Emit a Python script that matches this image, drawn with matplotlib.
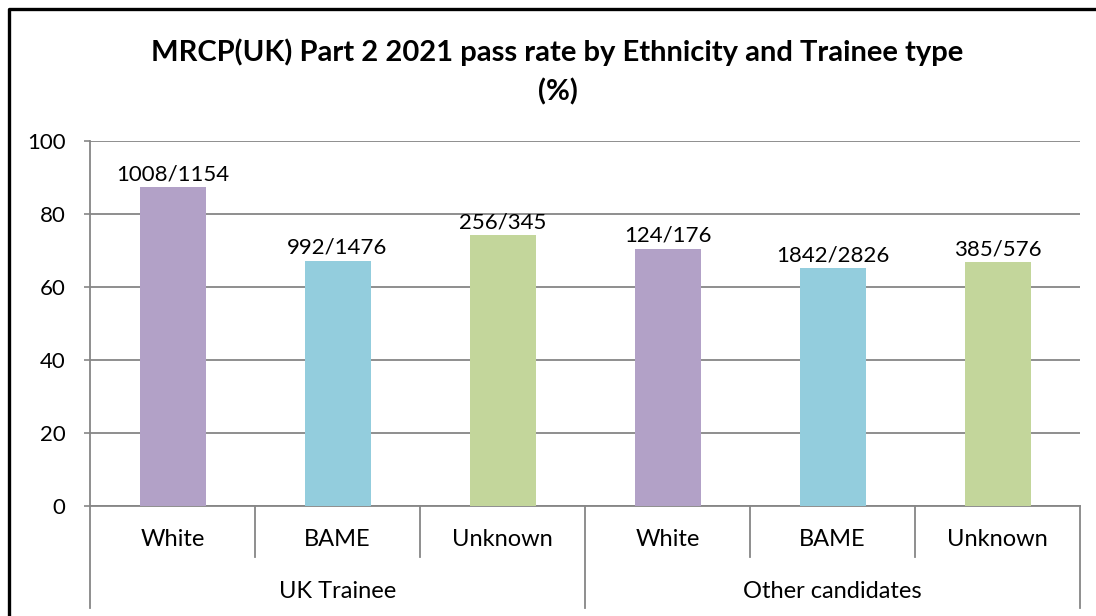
import matplotlib
matplotlib.use("Agg")
import matplotlib.pyplot as plt
from matplotlib.lines import Line2D
import matplotlib.transforms as mtransforms

# ---- data ----
groups = ["UK Trainee", "Other candidates"]
ethnicities = ["White", "BAME", "Unknown", "White", "BAME", "Unknown"]
pass_rates = [87.3, 67.2, 74.2, 70.5, 65.2, 66.8]
bar_labels = ["1008/1154", "992/1476", "256/345", "124/176", "1842/2826", "385/576"]
yticks = [0, 20, 40, 60, 80, 100]
colors = ["#B2A1C7", "#93CDDD", "#C3D69B", "#B2A1C7", "#93CDDD", "#C3D69B"]

plt.rcParams['font.family'] = ['Lato', 'DejaVu Sans']

W, H = 1096, 616
fig = plt.figure(figsize=(W / 100, H / 100), dpi=100)
ax = fig.add_axes([90 / W, 1 - 506 / H, (1080 - 90) / W, (506 - 141) / H])

x = list(range(len(pass_rates)))
bars = ax.bar(x, pass_rates, width=0.4, color=colors, zorder=3)
for xi, v, lab in zip(x, pass_rates, bar_labels):
    ax.text(xi, v + 0.8, lab, ha="center", va="bottom", fontsize=16, color="black", zorder=4)

ax.set_xlim(-0.5, len(x) - 0.5)
ax.set_ylim(0, 100)
ax.set_yticks(yticks)
ax.set_yticklabels([str(t) for t in yticks], fontsize=16)
ax.tick_params(axis="y", direction="out", length=4.5, width=1.2, color="#868686", pad=13)
ax.set_xticks([])
ax.grid(axis="y", color="#868686", linewidth=1.3, zorder=0)
for s in ["top", "right"]:
    ax.spines[s].set_visible(False)
ax.spines["left"].set_color("#868686")
ax.spines["left"].set_linewidth(1.3)
ax.spines["bottom"].set_color("#868686")
ax.spines["bottom"].set_linewidth(1.3)

trans = mtransforms.blended_transform_factory(ax.transData, ax.transAxes)
short = -51 / 365
long = -102 / 365
n = len(x)
for b in range(n + 1):
    xb = b - 0.5
    ylow = long if b % 3 == 0 else short
    ax.plot([xb, xb], [0, ylow], transform=trans, color="#868686", lw=1.3, clip_on=False)

for xi, e in zip(x, ethnicities):
    ax.text(xi, -34 / 365, e, transform=trans, ha="center", va="center", fontsize=17)
for gi, g in enumerate(groups):
    ax.text(gi * 3 + 1, -86 / 365, g, transform=trans, ha="center", va="center", fontsize=17)

fig.text(557.5 / W, 1 - 72 / H, "MRCP(UK) Part 2 2021 pass rate by Ethnicity and Trainee type\n(%)",
         ha="center", va="center", fontsize=21, fontweight="bold", linespacing=1.55)

# outer frame (left and top visible)
fig.add_artist(Line2D([8.5 / W, 8.5 / W, 1.0], [0.0, 1 - 9 / H, 1 - 9 / H],
                      transform=fig.transFigure, color="black", lw=2.4))

fig.savefig("out.png", dpi=100)
